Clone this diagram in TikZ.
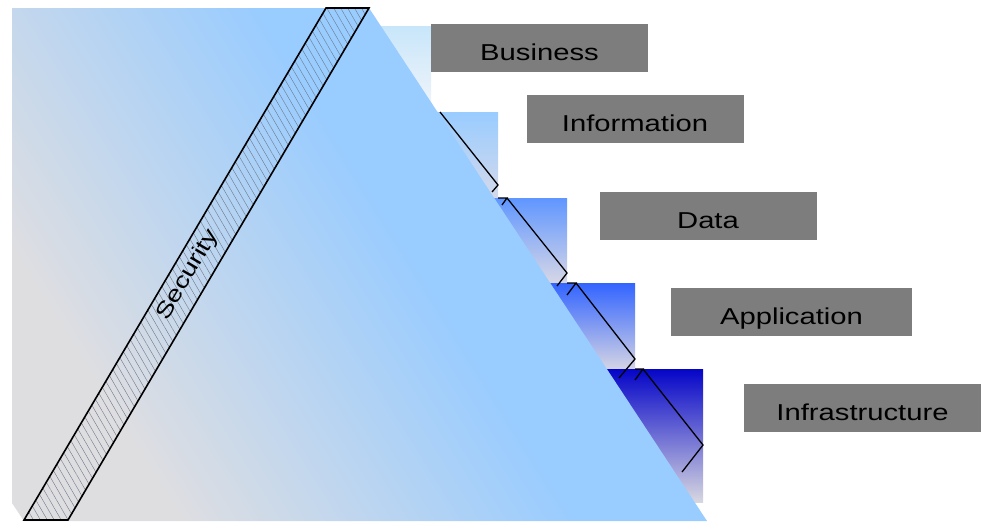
\documentclass[tikz,border=0pt]{standalone}
\usepackage{fontspec}
\setmainfont{Liberation Sans}[FakeStretch=1.27]
\usetikzlibrary{patterns.meta}
\definecolor{pg}{RGB}{222, 222, 225}
\definecolor{pb}{RGB}{153, 204, 255}
\definecolor{lg}{RGB}{125, 125, 125}
\definecolor{hatch}{RGB}{110, 120, 135}
\definecolor{bt}{RGB}{200, 230, 250}
\definecolor{bb}{RGB}{242, 245, 250}
\definecolor{it}{RGB}{153, 204, 255}
\definecolor{ib}{RGB}{212, 217, 235}
\definecolor{dt}{RGB}{95, 150, 255}
\definecolor{db}{RGB}{215, 215, 230}
\definecolor{at}{RGB}{50, 100, 255}
\definecolor{ab}{RGB}{212, 212, 228}
\definecolor{ft}{RGB}{5, 5, 200}
\definecolor{fb}{RGB}{215, 215, 225}
\pgfdeclarehorizontalshading{pyrshade}{100bp}{color(0bp)=(pg); color(27bp)=(pg); color(54bp)=(pb); color(100bp)=(pb)}

\tikzset{
  lbl/.style={rectangle, fill=lg, inner sep=0, minimum height=48pt, minimum width=217pt, text height=25pt, text depth=0pt, font=\fontsize{23}{28}\selectfont},
  edge/.style={black, line width=1.3pt},
}

\begin{document}
\begin{tikzpicture}[x=1pt, y=-1pt]
\useasboundingbox (0,0) rectangle (981,522);

% layers behind the pyramid
\shade[top color=bt, bottom color=bb] (360,26) rectangle (431,112);
\shade[top color=it, bottom color=ib] (360,112) rectangle (498,198);
\shade[top color=dt, bottom color=db] (360,198) rectangle (567,283);
\shade[top color=at, bottom color=ab] (360,283) rectangle (635,369);
\shade[top color=ft, bottom color=fb] (360,369) rectangle (703,502);

\draw[edge] (440,112) -- (498,185) -- (492,192);
\draw[edge] (498,198) -- (507,198) -- (502,205);
\draw[edge] (507,198) -- (567,273) -- (557,286);
\draw[edge] (567,283) -- (576,283) -- (567,295);
\draw[edge] (576,283) -- (635,359) -- (619,378);
\draw[edge] (635,369) -- (643,369) -- (635,380);
\draw[edge] (643,369) -- (703,445) -- (682,472);

% pyramid
\shade[shading=pyrshade, shading angle=32] (12,8) -- (369,8) -- (707,521) -- (24,521) -- (12,503) -- cycle;

% security band
\fill[pattern={Lines[angle=-60, distance=6pt, line width=0.4pt]}, pattern color=hatch] (326,8) -- (369,8) -- (68,520) -- (24,520) -- cycle;
\draw[edge, line width=1.6pt] (326,8) -- (369,8) -- (68,520) -- (24,520) -- cycle;
\node[rotate=59.5, font=\fontsize{22}{26}\selectfont] (sec) at (188,275) {Security};

% layer labels
\node[lbl] (bus) at (539.5,48) {Business};
\node[lbl] (inf) at (635,119) {Information};
\node[lbl] (dat) at (708,215.5) {Data};
\node[lbl, minimum width=241pt] (app) at (791.5,311.5) {Application};
\node[lbl, minimum width=237pt] (infra) at (862.5,407.5) {Infrastructure};

\end{tikzpicture}
\end{document}
